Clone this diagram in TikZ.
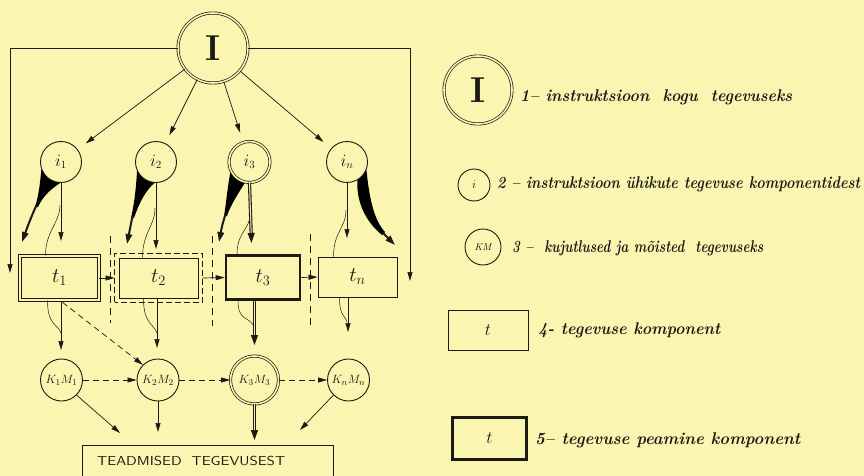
\documentclass[tikz,border=0pt]{standalone}
\usetikzlibrary{arrows.meta,calc,backgrounds}
\definecolor{bg}{RGB}{250,246,178}
\definecolor{ink}{RGB}{28,26,20}
\newcommand{\fitw}[2]{\resizebox{#1pt}{\height}{#2}}
\begin{document}
\begin{tikzpicture}[x=1pt,y=-1pt,color=ink,
  >={Triangle[length=9pt,width=5pt]},
  circ/.style={circle, draw, line width=0.9pt, inner sep=0pt, fill=bg, minimum size=#1},
  dcirc/.style={circle, draw, line width=0.7pt, double=bg, double distance=1.6pt, inner sep=0pt, fill=bg, minimum size=#1},
  tbox/.style={rectangle, draw, line width=0.9pt, inner sep=0pt, fill=bg},
  arr/.style={->, line width=0.7pt},
  darr/.style={->, line width=0.7pt, dash pattern=on 6pt off 4pt},
  dblarr/.style={line width=1.1pt, double=bg, double distance=1pt, -{Triangle[length=10pt,width=7pt]}},
  cur/.style={line width=0.5pt},
  warr/.style={line width=2pt, -{Triangle[length=10pt,width=6.5pt]}},
  vdash/.style={line width=0.8pt, dash pattern=on 7pt off 5pt},
  tfont/.style={font=\fontsize{20}{20}\selectfont},
  ifont/.style={font=\fontsize{16}{16}\selectfont},
  kfont/.style={font=\fontsize{12.5}{12.5}\selectfont},
  lab/.style={font=\fontsize{17}{20}\selectfont\bfseries\itshape, anchor=west, inner sep=0pt}]
\useasboundingbox (0,0) rectangle (864,476);

% ---------- nodes ----------
\node[dcirc=70, font=\fontsize{36}{36}\selectfont\bfseries] (I) at (213,48) {I};
\node[circ=41, ifont] (i1) at (61,162) {$i_1$};
\node[circ=41, ifont] (i2) at (156,162) {$i_2$};
\node[dcirc=41, ifont] (i3) at (249.5,162) {$i_3$};
\node[circ=41, ifont] (in) at (347,162) {$i_n$};

\node[tbox, tfont, line width=0.7pt, double=bg, double distance=1.8pt, minimum width=79, minimum height=44] (t1) at (59.5,278) {$t_1$};
\node[tbox, tfont, minimum width=79, minimum height=40] (t2) at (158.5,278) {$t_2$};
\node[tbox, tfont, line width=2.6pt, minimum width=74, minimum height=44] (t3) at (263,277.5) {$t_3$};
\node[tbox, tfont, minimum width=79, minimum height=40] (tn) at (357.5,277) {$t_n$};
\draw[line width=0.8pt, dash pattern=on 6pt off 3pt] ([shift={(-4,4)}]t2.south west) rectangle ([shift={(4,-4)}]t2.north east);

\node[circ=42, kfont] (k1) at (61.5,380) {$K_1M_1$};
\node[circ=42, kfont] (k2) at (158,380) {$K_2M_2$};
\node[dcirc=48, kfont] (k3) at (254.5,380) {$K_3M_3$};
\node[circ=42, kfont] (kn) at (348.5,380) {$K_nM_n$};

\node[rectangle, draw, line width=0.9pt, minimum width=251, minimum height=50, anchor=north west] (tead) at (82,445) {};
\node[anchor=west, inner sep=0pt, font=\fontsize{13}{13}\selectfont\sffamily] (teadtxt) at (97,461) {\fitw{188}{TEADMISED\ \ TEGEVUSEST}};

% ---------- frame ----------
\coordinate (fl) at (10,273);
\coordinate (fr) at (410,281);
\draw[arr] (I.west) -| (fl);
\draw[arr] (I.east) -| (fr);

% ---------- I -> i ----------
\draw[arr, shorten >=10pt] (I) -- (i1);
\draw[arr, shorten >=9pt] (I) -- (i2);
\draw[arr, shorten >=10pt] (I) -- (i3);
\draw[arr, shorten >=10pt] (I) -- (in);

% ---------- wedges ----------
\begin{scope}[on background layer]
\fill[bg] (0,0) rectangle (864,476);
\fill (i1.200) .. controls (40,186) and (38,198) .. (35,207) -- (38,207) .. controls (43,196) and (51,189) .. (i1.268) -- cycle;
\fill (i2.205) .. controls (136,190) and (134,205) .. (131,218) -- (134,218) .. controls (139,203) and (146,190) .. (i2.266) -- cycle;
\fill (i3.205) .. controls (227,190) and (226,205) .. (224,216) -- (227,216) .. controls (231,204) and (238,194) .. (i3.258) -- cycle;
\fill (in.300) .. controls (356,202) and (366,222) .. (382,235) -- (385,232) .. controls (373,219) and (369,195) .. (in.338) -- cycle;
\end{scope}
\coordinate (w1) at (22,242);
\coordinate (w2) at (127,244);
\coordinate (w3) at (219,242);
\coordinate (wn) at (395,245);
\draw[warr] (36.5,205) .. controls (30,220) .. (w1);
\draw[warr] (132.5,216) -- (w2);
\draw[warr] (225.5,214) .. controls (222,226) .. (w3);
\draw[warr] (383,233) -- (wn);

% ---------- i -> t ----------
\coordinate (a1) at (61,241);
\coordinate (a2) at (156,249);
\coordinate (a3) at (251.5,243);
\coordinate (an) at (347,238);
\draw[arr] (i1.south) -- (a1);
\draw[arr] (i2.south) -- (a2);
\draw[dblarr] (i3.south) -- (a3);
\draw[arr] (in.south) -- (an);
\draw[cur] ($(t1.north)+(-14,0)$) .. controls +(0,-25) and +(0,18) .. (60,205);
\draw[cur] ($(t2.north)+(-16,0)$) .. controls +(0,-25) and +(0,18) .. (155,208);
\draw[cur] ($(t3.north)+(-26,0)$) .. controls +(0,-22) and +(0,14) .. (250,215);
\draw[cur] ($(tn.north)+(-24,0)$) .. controls +(0,-25) and +(0,18) .. (346,210);

% ---------- t -> t ----------
\draw[arr] (t1.east) -- ($(t2.west)+(-4,0)$);
\draw[arr] ($(t2.east)+(4,0)$) -- (t3.west);
\draw[arr] (t3.east) -- (tn.west);
\draw[vdash] (110,236) -- (110,323);
\draw[vdash] (212,236) -- (212,326);
\draw[vdash] (310,234) -- (310,326);

% ---------- t -> KM ----------
\coordinate (b1) at (61,350);
\coordinate (b2) at (157,348);
\coordinate (b3) at (254.5,345);
\coordinate (bn) at (348,332);
\draw[arr] (61,301) -- (b1);
\draw[arr] (157,298) -- (b2);
\draw[dblarr] (254.5,301) -- (b3);
\draw[arr] (348,297) -- (bn);
\draw[cur] ($(t1.south)+(-12,0)$) .. controls +(0,25) and +(-4,-10) .. (61,333);
\draw[cur] ($(t2.south)+(-15,0)$) .. controls +(0,25) and +(-4,-10) .. (157,333);
\draw[cur] ($(t3.south)+(-25,0)$) .. controls +(0,20) and +(-4,-8) .. (253,325);
\draw[cur] ($(tn.south)+(-18,0)$) .. controls +(0,18) and +(-3,-8) .. (347,322);
\draw[darr] ($(t1.south)+(3,2)$) -- (k2.135);

% ---------- KM -> KM ----------
\draw[darr] (k1.east) -- (k2.west);
\draw[darr] (k2.east) -- (k3.west);
\draw[darr] (k3.east) -- (kn.west);

% ---------- KM -> Teadmised ----------
\coordinate (c1) at (120,433);
\coordinate (c2) at (158,432);
\coordinate (c3) at (254.5,440);
\coordinate (cn) at (300,430);
\draw[arr] (k1.-45) -- (c1);
\draw[arr] (k2.south) -- (c2);
\draw[dblarr] (k3.south) -- (c3);
\draw[arr] (kn.-135) -- (cn);

% ---------- legend ----------
\node[dcirc=68, font=\fontsize{36}{36}\selectfont\bfseries] (LI) at (478,90) {I};
\node[circ=32, font=\fontsize{12}{12}\selectfont] (Li) at (474,185) {$i$};
\node[circ=36, font=\fontsize{10}{10}\selectfont\itshape] (LK) at (483,247) {KM};
\node[tbox, font=\fontsize{17}{17}\selectfont, minimum width=80, minimum height=40] (Lt) at (488,330) {$t$};
\node[tbox, font=\fontsize{17}{17}\selectfont, line width=2.6pt, minimum width=74, minimum height=42] (Lt5) at (489.5,438.5) {$t$};

\node[lab] (L1) at (520,97) {\fitw{272}{1-- instruktsioon\ \ kogu\ \ tegevuseks}};
\node[lab] (L2) at (497,184) {\fitw{363}{2 -- instruktsioon ühikute tegevuse komponentidest}};
\node[lab] (L3) at (512,248) {\fitw{251}{3 -- \ kujutlused ja mõisted\ \ tegevuseks}};
\node[lab] (L4) at (538,330) {\fitw{182}{4- tegevuse komponent}};
\node[lab] (L5) at (535,440) {\fitw{265}{5-- tegevuse peamine komponent}};
\end{tikzpicture}
\end{document}
